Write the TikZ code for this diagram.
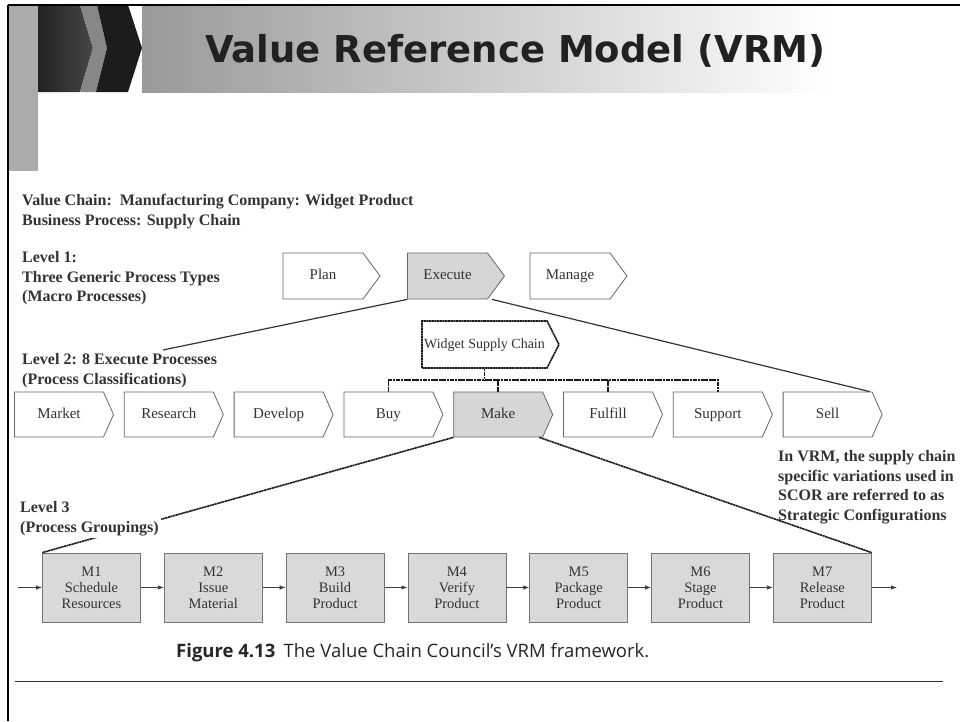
\documentclass[tikz,border=0pt]{standalone}
\usepackage{fontspec}
\setmainfont{Liberation Serif}
\newfontfamily\titlefont{DejaVu Sans}
\newfontfamily\capfont{Open Sans}
\usetikzlibrary{shapes.symbols,calc,arrows.meta}

\begin{document}
\begin{tikzpicture}[
    x=1pt, y=-1pt,
    every node/.style={inner sep=0pt, text=black!80},
    chev/.style={signal, signal to=east, signal from=nowhere, draw=black!60, fill=white,
        line width=0.8pt, minimum height=45pt, minimum width=99pt, signal pointer angle=132,
        text height=10.5pt, text depth=3.5pt, font=\fontsize{15}{18}\selectfont},
    top chev/.style={chev, minimum height=46pt, minimum width=97pt, signal pointer angle=107},
    picked/.style={fill=black!16},
    mbox/.style={rectangle, draw=black!55, fill=black!15, line width=0.8pt,
        minimum width=98pt, minimum height=69pt, align=center,
        font=\fontsize{14.5}{16}\selectfont},
    label/.style={anchor=north west, align=left, font=\bfseries\fontsize{16}{19.7}\selectfont},
    flow/.style={-{Latex[length=6pt,width=4.5pt]}, draw=black!75, line width=0.8pt},
    link/.style={draw=black!80, line width=1.2pt},
    dots/.style={draw=black!90, line width=1.6pt, dash pattern=on 2.2pt off 0.5pt}
]
\useasboundingbox (0,0) rectangle (960,721);

% title band
\shade[left color=black!40, right color=white] (142,5) rectangle (830,92);
\shade[left color=black!87, right color=black!72] (38,5) -- (80,5) -- (93,48) -- (80,92) -- (38,92) -- cycle;
\fill[black!47] (80,5) -- (97,5) -- (107,48) -- (96,92) -- (80,92) -- (93,48) -- cycle;
\fill[black!89] (97,5) -- (128,5) -- (142,48) -- (128,92) -- (96,92) -- (107,48) -- cycle;
\fill[black!33] (8,4) rectangle (38,171);
\draw[line width=2pt] (8,5) -- (960,5);
\draw[line width=2pt] (8,5) -- (8,721);
\node[anchor=base west, text=black!87, font=\titlefont\bfseries\fontsize{37}{40}\selectfont] (title) at (205,62) {Value Reference Model (VRM)};

% headings
\node[label] (chain) at (22,194) {Value Chain:\ \ Manufacturing Company: Widget Product\\Business Process: Supply Chain};
\node[label] (lvlone) at (22,251) {Level 1:\\Three Generic Process Types\\(Macro Processes)};
\node[label] (lvltwo) at (22,353) {Level 2: 8 Execute Processes\\(Process Classifications)};

% level 1
\node[top chev] (plan) at (323,276) {Plan};
\node[top chev, picked] (execute) at (447.5,276) {Execute};
\node[top chev] (manage) at (570,276) {Manage};

% level 2
\node[chev, dots, fill=white, minimum height=47pt, minimum width=137pt, signal pointer angle=126,
    font=\fontsize{14}{16}\selectfont] (widget) at (484.5,344.5) {Widget Supply Chain};
\node[chev] (market) at (59,414.5) {Market};
\node[chev] (research) at (168.8,414.5) {Research};
\node[chev] (develop) at (278.6,414.5) {Develop};
\node[chev] (buy) at (388.4,414.5) {Buy};
\node[chev, picked] (make) at (498.2,414.5) {Make};
\node[chev] (fulfill) at (608,414.5) {Fulfill};
\node[chev] (support) at (717.8,414.5) {Support};
\node[chev] (sell) at (827.6,414.5) {Sell};

\draw[dots] (widget.south) -- ++(0,11) coordinate (hub);
\draw[dots] (buy.north) |- (hub) -| (support.north);
\draw[dots] (make.north) -- (make.north |- hub);
\draw[dots] (fulfill.north) -- (fulfill.north |- hub);

\coordinate (lvltwotip) at (163,350);
\draw[link] (execute.south west) -- (lvltwotip);
\draw[link] ($(execute.south west)+(85,0)$) -- ($(sell.north west)+(87,0)$);

\node[label] (note) at (778,450) {In VRM, the supply chain\\specific variations used in\\SCOR are referred to as\\Strategic Configurations};

% level 3
\node[mbox] (m1) at (91.5,587.5) {M1\\Schedule\\Resources};
\node[mbox] (m2) at (213.3,587.5) {M2\\Issue\\Material};
\node[mbox] (m3) at (335.1,587.5) {M3\\Build\\Product};
\node[mbox] (m4) at (456.9,587.5) {M4\\Verify\\Product};
\node[mbox] (m5) at (578.7,587.5) {M5\\Package\\Product};
\node[mbox] (m6) at (700.5,587.5) {M6\\Stage\\Product};
\node[mbox] (m7) at (822.3,587.5) {M7\\Release\\Product};

\draw[dots] (make.south west) -- (m1.north west);
\draw[dots] ($(make.south west)+(86,0)$) -- (m7.north east);
\node[label, fill=white, inner sep=2pt] (lvlthree) at (18,499) {Level 3\\(Process Groupings)};

\coordinate (in) at (18,587.5);
\coordinate (out) at (897,587.5);
\draw[flow] (in) -- (m1);
\draw[flow] (m1) -- (m2);
\draw[flow] (m2) -- (m3);
\draw[flow] (m3) -- (m4);
\draw[flow] (m4) -- (m5);
\draw[flow] (m5) -- (m6);
\draw[flow] (m6) -- (m7);
\draw[flow] (m7) -- (out);

% caption
\node[anchor=base west, text=black!85, font=\capfont\fontsize{18.5}{22}\selectfont] (caption) at (176,657)
    {\textbf{Figure 4.13}\hspace{0.45em}The Value Chain Council’s VRM framework.};
\draw[black!80, line width=1pt] (15,681) -- (943,681);
\end{tikzpicture}
\end{document}
